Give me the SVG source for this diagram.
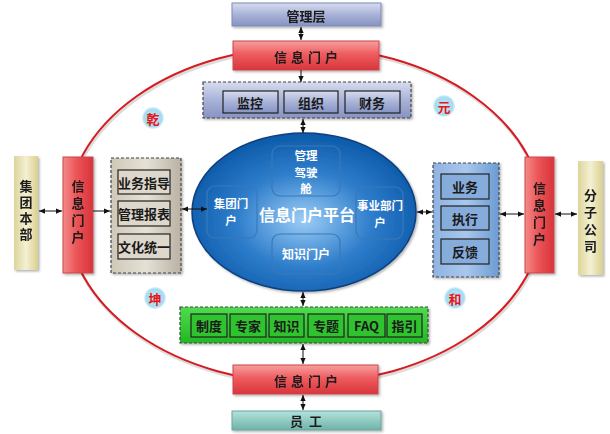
<svg xmlns="http://www.w3.org/2000/svg" width="610" height="434" viewBox="0 0 610 434">
<defs>
<linearGradient id="gSlate" x1="0" y1="0" x2="0" y2="1"><stop offset="0" stop-color="#d6dcef"/><stop offset="0.5" stop-color="#a9b3d8"/><stop offset="1" stop-color="#8693c2"/></linearGradient>
<linearGradient id="gRedH" x1="0" y1="0" x2="0" y2="1"><stop offset="0" stop-color="#f7a0a0"/><stop offset="0.45" stop-color="#ee5c5f"/><stop offset="1" stop-color="#d9343a"/></linearGradient>
<linearGradient id="gRedV" x1="0" y1="0" x2="1" y2="0"><stop offset="0" stop-color="#f48a8a"/><stop offset="0.45" stop-color="#ec5558"/><stop offset="1" stop-color="#d8343a"/></linearGradient>
<linearGradient id="gKhaki" x1="0" y1="0" x2="1" y2="0"><stop offset="0" stop-color="#ddd49a"/><stop offset="0.5" stop-color="#f4f0d2"/><stop offset="1" stop-color="#d9cf8f"/></linearGradient>
<linearGradient id="gBeige" x1="0" y1="0" x2="1" y2="0"><stop offset="0" stop-color="#cfc8b8"/><stop offset="0.5" stop-color="#e6e1d6"/><stop offset="1" stop-color="#bab2a3"/></linearGradient>
<linearGradient id="gBlueR" x1="0" y1="0" x2="1" y2="0"><stop offset="0" stop-color="#8fb3e2"/><stop offset="0.5" stop-color="#a9c7ec"/><stop offset="1" stop-color="#6b9bd3"/></linearGradient>
<linearGradient id="gGreen" x1="0" y1="0" x2="0" y2="1"><stop offset="0" stop-color="#4fdc4f"/><stop offset="1" stop-color="#22b822"/></linearGradient>
<linearGradient id="gTeal" x1="0" y1="0" x2="0" y2="1"><stop offset="0" stop-color="#b3e2da"/><stop offset="1" stop-color="#6fb3aa"/></linearGradient>
<radialGradient id="gEll" cx="0.5" cy="0.55" r="0.55"><stop offset="0" stop-color="#9ccdf6"/><stop offset="0.55" stop-color="#2e7dcb"/><stop offset="1" stop-color="#0b5aa9"/></radialGradient>
<radialGradient id="gCirc" cx="0.5" cy="0.5" r="0.5"><stop offset="0" stop-color="#c2ecf8"/><stop offset="0.8" stop-color="#a3dcf0"/><stop offset="1" stop-color="#a3dcf0" stop-opacity="0.3"/></radialGradient>
<filter id="sh" x="-10%" y="-10%" width="130%" height="130%"><feDropShadow dx="1.5" dy="1.5" stdDeviation="1" flood-color="#000" flood-opacity="0.3"/></filter>
<marker id="ah" viewBox="0 0 8 8" refX="8" refY="4" markerWidth="6" markerHeight="6" orient="auto-start-reverse"><path d="M0,0.5 L8,4 L0,7.5 z" fill="#111"/></marker>
</defs>
<style>
text{font-family:"Noto Sans CJK SC","Noto Sans",sans-serif;font-weight:700;text-anchor:middle;dominant-baseline:central}
.t{font-size:13px;fill:#1a1a1a}
.v{writing-mode:vertical-rl}
.w{font-size:11.5px;fill:#fff}
.c{font-size:13px;fill:#e8161b}
.inner{stroke:#222;stroke-width:1.2}
.dash{stroke:#444;stroke-width:1.2;stroke-dasharray:3 2}
.ib{fill:none;stroke:#3b78b8;stroke-width:1.2}
.cn line{stroke:#111;stroke-width:1}
</style>
<ellipse cx="306" cy="217" rx="238" ry="168" fill="none" stroke="#b9b9b9" stroke-width="3" opacity="0.5"/>
<ellipse cx="305" cy="215" rx="238" ry="168" fill="none" stroke="#d61a1f" stroke-width="2"/>

<g id="guanlice" filter="url(#sh)"><rect x="232" y="3" width="149" height="23" fill="url(#gSlate)" stroke="#7d89b5"/><text class="t" x="306" y="15">管理层</text></g>
<g id="portal-top" filter="url(#sh)"><rect x="233" y="41" width="146" height="29" fill="url(#gRedH)" stroke="#c9474b"/><text class="t" x="308" y="56" letter-spacing="4">信息门户</text></g>
<g id="top-group"><rect x="203" y="82" width="208" height="36" fill="url(#gSlate)" class="dash" filter="url(#sh)"/>
<rect x="223" y="91" width="55" height="22" fill="url(#gSlate)" class="inner"/><text class="t" x="250" y="102">监控</text>
<rect x="284" y="91" width="54" height="22" fill="url(#gSlate)" class="inner"/><text class="t" x="311" y="102">组织</text>
<rect x="345" y="91" width="55" height="22" fill="url(#gSlate)" class="inner"/><text class="t" x="372" y="102">财务</text></g>

<g id="jituanbenbu" filter="url(#sh)"><rect x="14" y="156" width="24" height="114" fill="url(#gKhaki)"/>
<text class="t v" x="26" y="212" letter-spacing="3">集团本部</text></g>
<g id="portal-left" filter="url(#sh)"><rect x="63" y="157" width="30" height="116" fill="url(#gRedV)" stroke="#c9474b"/>
<text class="t v" x="78" y="214" letter-spacing="4">信息门户</text></g>
<g id="left-group"><rect x="111" y="158" width="70" height="115" fill="url(#gBeige)" class="dash" filter="url(#sh)"/>
<rect x="118" y="170" width="52" height="24" fill="#ddd8cb" class="inner"/><text class="t" x="144" y="182">业务指导</text>
<rect x="118" y="201" width="52" height="25" fill="#ddd8cb" class="inner"/><text class="t" x="144" y="213.5">管理报表</text>
<rect x="118" y="234" width="52" height="25" fill="#ddd8cb" class="inner"/><text class="t" x="144" y="246.5">文化统一</text></g>

<g id="platform"><ellipse cx="304" cy="212" rx="112" ry="79" fill="url(#gEll)" stroke="#0b3f7d" stroke-width="1.5" filter="url(#sh)"/>
<text x="307" y="214" style="font-size:16px;fill:#fff">信息门户平台</text></g>
<g id="cockpit"><rect x="272" y="146" width="68" height="50" rx="8" class="ib"/><text class="w" x="306" y="155">管理</text><text class="w" x="306" y="171.7">驾驶</text><text class="w" x="306" y="188.4">舱</text></g>
<g id="jituan-portal"><rect x="207" y="186" width="50" height="52" rx="8" class="ib"/><text class="w" x="231" y="203">集团门</text><text class="w" x="231" y="220">户</text></g>
<g id="shiye-portal"><rect x="356" y="187" width="47" height="52" rx="8" class="ib"/><text class="w" x="380" y="205">事业部门</text><text class="w" x="380" y="222">户</text></g>
<g id="zhishi-portal"><rect x="272" y="234" width="68" height="40" rx="8" class="ib"/><text class="w" x="306" y="253" style="font-size:12px">知识门户</text></g>

<g id="right-group"><rect x="433" y="163" width="66" height="114" fill="url(#gBlueR)" class="dash" filter="url(#sh)"/>
<rect x="441" y="174" width="48" height="25" fill="#86acdc" class="inner"/><text class="t" x="465" y="186.5">业务</text>
<rect x="441" y="206" width="48" height="24" fill="#86acdc" class="inner"/><text class="t" x="465" y="218">执行</text>
<rect x="441" y="239" width="48" height="25" fill="#86acdc" class="inner"/><text class="t" x="465" y="251.5">反馈</text></g>
<g id="portal-right" filter="url(#sh)"><rect x="525" y="157" width="29" height="116" fill="url(#gRedV)" stroke="#c9474b"/>
<text class="t v" x="539.5" y="216" letter-spacing="4">信息门户</text></g>
<g id="fenzigongsi" filter="url(#sh)"><rect x="578" y="161" width="25" height="114" fill="url(#gKhaki)"/>
<text class="t v" x="590.5" y="223" letter-spacing="4">分子公司</text></g>

<g id="bottom-group"><rect x="180" y="307" width="248" height="36" fill="url(#gGreen)" class="dash" filter="url(#sh)"/>
<rect x="191" y="314" width="36" height="23" fill="#2fc42f" class="inner"/><text class="t" x="209" y="325.5">制度</text>
<rect x="230" y="314" width="36" height="23" fill="#2fc42f" class="inner"/><text class="t" x="248" y="325.5">专家</text>
<rect x="269" y="314" width="35" height="23" fill="#2fc42f" class="inner"/><text class="t" x="286.5" y="325.5">知识</text>
<rect x="308" y="314" width="36" height="23" fill="#2fc42f" class="inner"/><text class="t" x="326" y="325.5">专题</text>
<rect x="348" y="314" width="37" height="23" fill="#2fc42f" class="inner"/><text class="t" x="366.5" y="325.5">FAQ</text>
<rect x="387" y="314" width="35" height="23" fill="#2fc42f" class="inner"/><text class="t" x="404.5" y="325.5">指引</text></g>
<g id="portal-bottom" filter="url(#sh)"><rect x="233" y="365" width="145" height="29" fill="url(#gRedH)" stroke="#c9474b"/><text class="t" x="308" y="380" letter-spacing="4">信息门户</text></g>
<g id="yuangong" filter="url(#sh)"><rect x="232" y="411" width="149" height="19" fill="url(#gTeal)" stroke="#6aa59e"/><text class="t" x="306" y="420.5" xml:space="preserve">员  工</text></g>

<g id="qian"><circle cx="153" cy="118" r="11" fill="url(#gCirc)"/><text class="c" x="153" y="118">乾</text></g>
<g id="yuan"><circle cx="444" cy="106" r="11" fill="url(#gCirc)"/><text class="c" x="444" y="106">元</text></g>
<g id="kun"><circle cx="155" cy="298" r="11" fill="url(#gCirc)"/><text class="c" x="155" y="298">坤</text></g>
<g id="he"><circle cx="455" cy="298" r="11" fill="url(#gCirc)"/><text class="c" x="455" y="298">和</text></g>

<g id="connectors" class="cn">
<line x1="301" y1="27" x2="301" y2="40" marker-start="url(#ah)" marker-end="url(#ah)"/>
<line x1="301" y1="70" x2="301" y2="82" marker-end="url(#ah)"/>
<line x1="303" y1="119" x2="303" y2="133" marker-start="url(#ah)" marker-end="url(#ah)"/>
<line x1="39" y1="211" x2="62" y2="211" marker-start="url(#ah)" marker-end="url(#ah)"/>
<line x1="93" y1="211" x2="110" y2="211" marker-end="url(#ah)"/>
<line x1="182" y1="209" x2="207" y2="209" marker-start="url(#ah)" marker-end="url(#ah)"/>
<line x1="417" y1="212" x2="432" y2="212" marker-start="url(#ah)" marker-end="url(#ah)"/>
<line x1="500" y1="214" x2="524" y2="214" marker-start="url(#ah)" marker-end="url(#ah)"/>
<line x1="555" y1="214" x2="577" y2="214" marker-start="url(#ah)" marker-end="url(#ah)"/>
<line x1="303" y1="292" x2="303" y2="306" marker-start="url(#ah)" marker-end="url(#ah)"/>
<line x1="303" y1="344" x2="303" y2="364" marker-start="url(#ah)" marker-end="url(#ah)"/>
<line x1="303" y1="395" x2="303" y2="410" marker-start="url(#ah)" marker-end="url(#ah)"/>
</g>
</svg>
